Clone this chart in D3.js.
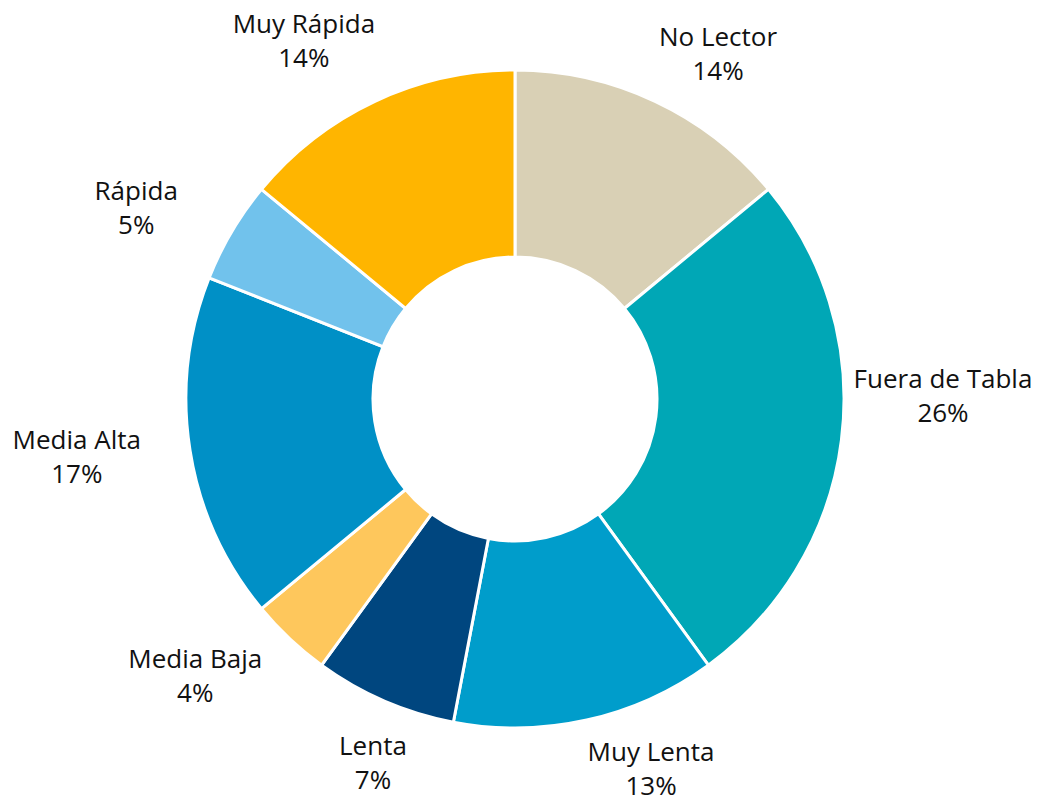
<!DOCTYPE html>
<html>
<head>
<meta charset="utf-8">
<script src="https://cdn.jsdelivr.net/npm/d3@7"></script>
<style>
  body { margin: 0; background: #fff; }
  svg { display: block; }
  .label { font-family: "Open Sans", "Noto Sans", sans-serif; font-size: 26px; fill: #111; }
</style>
</head>
<body>
<div id="chart"></div>
<script>
// data, clockwise from 12 o'clock
const categories = ['No Lector', 'Fuera de Tabla', 'Muy Lenta', 'Lenta', 'Media Baja', 'Media Alta', 'Rápida', 'Muy Rápida'];
const values = [14, 26, 13, 7, 4, 17, 5, 14];
const colors = ['#d9d0b5', '#00a7b6', '#009dcb', '#00467f', '#fec75c', '#0090c6', '#71c2ec', '#ffb500'];

// label placement: angle shift from slice middle (deg) and distance from centre
const labelAngleShift = [5.3, -7.6, -7.6, -2.1, 5.9, 1.5, -3.9, -5.3];
const labelRadius = [400, 428, 394, 391, 423, 442, 424, 416];

const width = 1041, height = 805;
const cx = 515, cy = 399;
const outerR = 329, innerR = 142;

const data = categories.map((c, i) => ({ name: c, value: values[i], color: colors[i], i: i }));

const svg = d3.select('#chart').append('svg')
    .attr('width', width)
    .attr('height', height);

const g = svg.append('g')
    .attr('transform', `translate(${cx},${cy})`);

const pie = d3.pie()
    .sort(null)
    .value(d => d.value);

const arc = d3.arc()
    .innerRadius(innerR)
    .outerRadius(outerR);

const arcs = pie(data);

// slices
g.selectAll('.slice')
    .data(arcs)
    .join('path')
    .attr('class', 'slice')
    .attr('d', arc)
    .attr('fill', d => d.data.color)
    .attr('stroke', '#fff')
    .attr('stroke-width', 3)
    .attr('stroke-linejoin', 'miter');

// labels
const labels = g.selectAll('.label')
    .data(arcs)
    .join('text')
    .attr('class', 'label')
    .attr('text-anchor', 'middle')
    .attr('transform', d => {
        const i = d.data.i;
        const a = (d.startAngle + d.endAngle) / 2 + labelAngleShift[i] * Math.PI / 180;
        const r = labelRadius[i];
        const p = d3.arc().innerRadius(r).outerRadius(r).startAngle(a).endAngle(a).centroid();
        return `translate(${p[0]},${p[1]})`;
    });

labels.append('tspan')
    .attr('x', 0)
    .attr('y', -8)
    .text(d => d.data.name);

labels.append('tspan')
    .attr('x', 0)
    .attr('y', 26)
    .text(d => Math.round(d.data.value / d3.sum(values) * 100) + '%');
</script>
</body>
</html>
